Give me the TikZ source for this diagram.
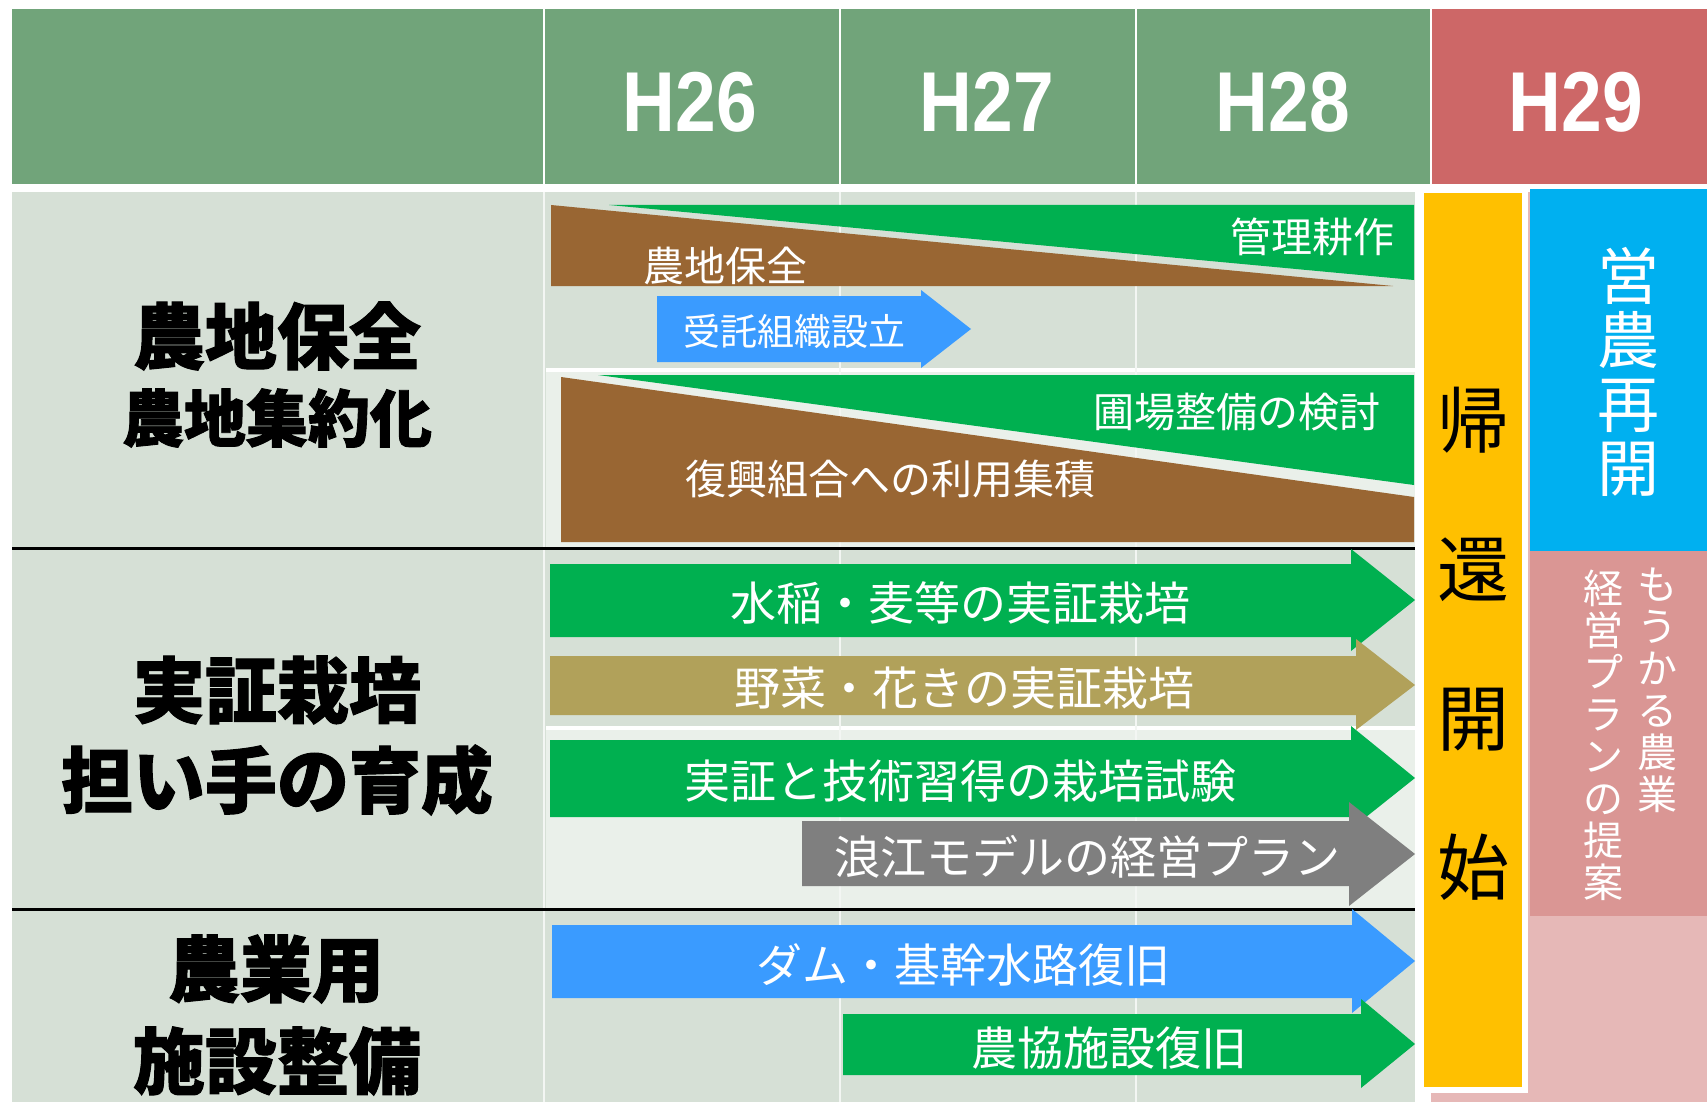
\documentclass[tikz,border=0pt]{standalone}
\usepackage{fontspec}
\newfontfamily\jfont{Noto Sans CJK JP}
\newfontfamily\jheavy[BoldFeatures={FakeBold=1.4}]{Noto Sans CJK JP}
\newfontfamily\hfont[FakeStretch=0.86]{Liberation Sans}

\definecolor{hdrgreen}{RGB}{113,164,122}
\definecolor{hdrred}{RGB}{205,103,103}
\definecolor{bgdark}{RGB}{214,224,214}
\definecolor{bglight}{RGB}{234,240,234}
\definecolor{brownfill}{RGB}{153,102,51}
\definecolor{greenfill}{RGB}{0,176,80}
\definecolor{bluefill}{RGB}{58,155,255}
\definecolor{olivefill}{RGB}{177,161,90}
\definecolor{grayfill}{RGB}{127,127,127}
\definecolor{yellowfill}{RGB}{255,192,0}
\definecolor{cyanfill}{RGB}{0,176,240}
\definecolor{pinkfill}{RGB}{218,150,148}
\definecolor{pinklight}{RGB}{230,184,183}

\begin{document}
\begin{tikzpicture}[x=1pt, y=-1pt,
	hdr/.style={text=white, inner sep=0, font=\hfont\bfseries\fontsize{85}{85}\selectfont},
	lbl/.style={inner sep=0, font=\jheavy\bfseries\fontsize{72}{72}\selectfont},
	tl/.style={text=white, inner sep=0, font=\jfont\fontsize{46}{46}\selectfont},
	tlsmall/.style={text=white, inner sep=0, font=\jfont\fontsize{41}{41}\selectfont},
	vt/.style={inner sep=0, align=center}]
		\useasboundingbox (0,0) rectangle (1707,1102);
		\fill[white] (0,0) rectangle (1707,1102);

		% header
		\fill[hdrgreen] (12,9) rectangle (1431,184);
		\fill[hdrred] (1431,9) rectangle (1707,184);
		\foreach \x in {544,840,1136,1431}
			\draw[white, line width=2] (\x,9) -- (\x,184);
		\node[hdr] (h26) at (690,102) {H26};
		\node[hdr] (h27) at (987,102) {H27};
		\node[hdr] (h28) at (1283,102) {H28};
		\node[hdr] (h29) at (1576,102) {H29};

		% body background
		\fill[bgdark] (12,192) rectangle (1415,1102);
		\fill[bglight] (546,372) rectangle (1415,548);
		\fill[bglight] (546,730) rectangle (1415,909);
		\draw[white, line width=4] (546,370) -- (1415,370);
		\draw[white, line width=4] (546,728) -- (1415,728);
		\foreach \x in {544,840,1136}
			\draw[white!70!bgdark, line width=2] (\x,192) -- (\x,1102);
		\draw[black, line width=3] (12,548) -- (1415,548);
		\draw[black, line width=3] (12,909) -- (1415,909);

		% H29 column
		\fill[pinklight] (1431,192) rectangle (1707,1102);
		\fill[cyanfill] (1530,189) rectangle (1707,551);
		\fill[pinkfill] (1530,551) rectangle (1707,916);
		\filldraw[fill=yellowfill, draw=white, line width=6] (1421,190) rectangle (1525,1090);

		% row labels
		\node[lbl] (farm1) at (277,336) {農地保全};
		\node[lbl, font=\jheavy\bfseries\fontsize{62}{62}\selectfont] (farm2) at (277,418) {農地集約化};
		\node[lbl] (demo1) at (277,690) {実証栽培};
		\node[lbl] (demo2) at (277,780) {担い手の育成};
		\node[lbl] (fac1) at (276,969) {農業用};
		\node[lbl] (fac2) at (277,1061) {施設整備};

		% land: upper wedge pair
		\fill[brownfill] (551,205) -- (551,286) -- (1393,286) -- cycle;
		\fill[greenfill] (609,205) -- (1414,205) -- (1414,280) -- cycle;
		\node[tlsmall] (keep) at (725,266) {農地保全};
		\node[tlsmall] (manage) at (1312,237) {管理耕作};

		% land: lower wedge pair
		\fill[brownfill] (561,377) -- (1414,497) -- (1414,542) -- (561,542) -- cycle;
		\fill[greenfill] (598,375) -- (1414,375) -- (1414,485) -- cycle;
		\node[tlsmall] (field) at (1237,412) {圃場整備の検討};
		\node[tlsmall] (union) at (890,479) {復興組合への利用集積};

		% arrows
		\fill[bluefill] (657,296) -- (921,296) -- (921,290) -- (971,329) -- (921,368) -- (921,362) -- (657,362) -- cycle;
		\node[tl, font=\jfont\fontsize{37}{37}\selectfont] (org) at (794,331) {受託組織設立};

		\fill[greenfill] (550,564) -- (1351,564) -- (1351,549) -- (1415,600) -- (1351,651) -- (1351,637) -- (550,637) -- cycle;
		\node[tl] (rice) at (960,603) {水稲・麦等の実証栽培};

		\fill[olivefill] (550,656) -- (1356,656) -- (1356,639) -- (1415,685) -- (1356,730) -- (1356,715) -- (550,715) -- cycle;
		\node[tl] (veg) at (964,688) {野菜・花きの実証栽培};

		\fill[greenfill] (550,740) -- (1351,740) -- (1351,726) -- (1415,778) -- (1351,829) -- (1351,817) -- (550,817) -- cycle;
		\node[tl] (skill) at (960,781) {実証と技術習得の栽培試験};

		\fill[grayfill] (802,821) -- (1349,821) -- (1349,802) -- (1415,854) -- (1349,906) -- (1349,886) -- (802,886) -- cycle;
		\node[tl] (plan) at (1087,857) {浪江モデルの経営プラン};

		\fill[bluefill] (552,925) -- (1352,925) -- (1352,909) -- (1415,961) -- (1352,1013) -- (1352,998) -- (552,998) -- cycle;
		\node[tl] (dam) at (963,965) {ダム・基幹水路復旧};

		\fill[greenfill] (843,1014) -- (1361,1014) -- (1361,999) -- (1415,1044) -- (1361,1088) -- (1361,1075) -- (843,1075) -- cycle;
		\node[tl] (coop) at (1109,1048) {農協施設復旧};

		% vertical texts
		\node[vt, font=\jfont\fontsize{72}{149}\selectfont] (ret) at (1473,644) {帰\\還\\開\\始};
		\node[vt, text=white, font=\jfont\fontsize{62}{64}\selectfont] (resume) at (1628,372) {営\\農\\再\\開};
		\node[vt, text=white, font=\jfont\fontsize{40}{42}\selectfont] (profit) at (1657,690) {も\\う\\か\\る\\農\\業};
		\node[vt, text=white, font=\jfont\fontsize{40}{42}\selectfont] (propose) at (1603,735) {経\\営\\プ\\ラ\\ン\\の\\提\\案};
	\end{tikzpicture}
\end{document}
